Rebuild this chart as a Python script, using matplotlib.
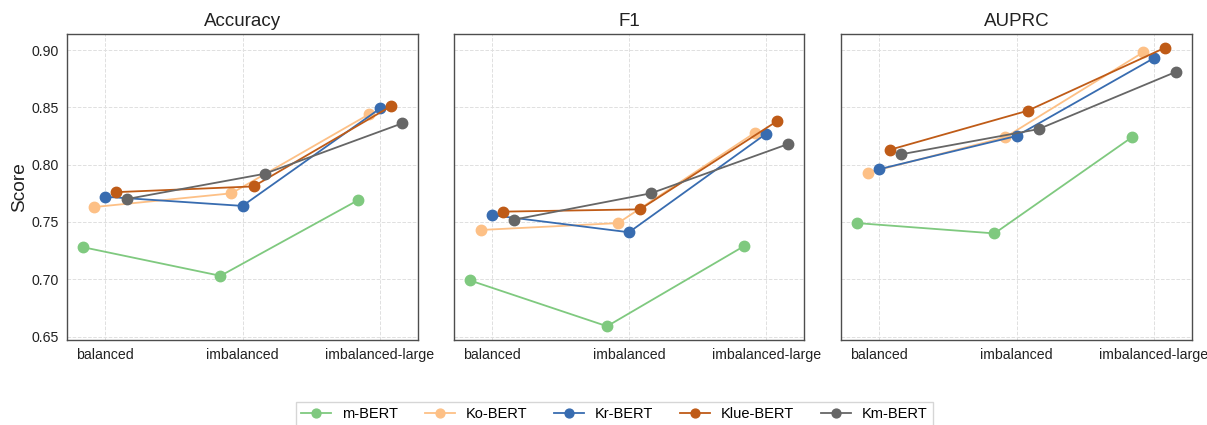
import numpy as np
import matplotlib
matplotlib.use("Agg")
import matplotlib.pyplot as plt

plt.rcParams['font.family'] = ['Liberation Sans', 'DejaVu Sans']

settings = ['balanced', 'imbalanced', 'imbalanced-large']
metrics = ['Accuracy', 'F1', 'AUPRC']
models = ['m-BERT', 'Ko-BERT', 'Kr-BERT', 'Klue-BERT', 'Km-BERT']
colors = ['#7fc97f', '#fdc086', '#386cb0', '#bf5b17', '#666666']

# scores[metric][model] -> one value per setting
accuracy = {
    'm-BERT':    [0.728, 0.703, 0.769],
    'Ko-BERT':   [0.763, 0.775, 0.844],
    'Kr-BERT':   [0.772, 0.764, 0.849],
    'Klue-BERT': [0.776, 0.781, 0.851],
    'Km-BERT':   [0.770, 0.792, 0.836],
}
f1 = {
    'm-BERT':    [0.699, 0.659, 0.729],
    'Ko-BERT':   [0.743, 0.749, 0.828],
    'Kr-BERT':   [0.756, 0.741, 0.827],
    'Klue-BERT': [0.759, 0.761, 0.838],
    'Km-BERT':   [0.752, 0.775, 0.818],
}
auprc = {
    'm-BERT':    [0.749, 0.740, 0.824],
    'Ko-BERT':   [0.793, 0.824, 0.898],
    'Kr-BERT':   [0.796, 0.825, 0.893],
    'Klue-BERT': [0.813, 0.847, 0.902],
    'Km-BERT':   [0.809, 0.831, 0.881],
}
scores = {'Accuracy': accuracy, 'F1': f1, 'AUPRC': auprc}

fig = plt.figure(figsize=(12.07, 4.25), dpi=100)
W, H = 1207, 425
boxes = [(67, 34, 351, 306), (454, 34, 350, 306), (841, 34, 351, 306)]
axes = []
for i, (x0, y0, w, h) in enumerate(boxes):
    ax = fig.add_axes([x0 / W, 1 - (y0 + h) / H, w / W, h / H],
                      sharey=axes[0] if axes else None)
    axes.append(ax)

x = np.arange(len(settings))
offsets = np.linspace(-0.16, 0.16, len(models))

for ax, metric in zip(axes, metrics):
    for j, (model, c) in enumerate(zip(models, colors)):
        ax.plot(x + offsets[j], scores[metric][model], '-o', color=c,
                lw=1.3, ms=7.5, label=model)
    ax.set_title(metric, fontsize=13.5, color='#222222', pad=6)
    ax.set_xticks(x)
    ax.set_xticklabels(settings)
    ax.grid(True, ls='--', lw=0.7, color='#e0e0e0')
    ax.set_axisbelow(True)
    ax.tick_params(length=0, pad=6, labelsize=10.2, colors='#222222')
    for s in ax.spines.values():
        s.set_color('#4d4d4d')
        s.set_linewidth(1.0)

axes[0].set_ylim(0.647, 0.914)
axes[0].set_yticks([0.65, 0.70, 0.75, 0.80, 0.85, 0.90])
axes[0].set_yticklabels([f'{v:.2f}' for v in [0.65, 0.70, 0.75, 0.80, 0.85, 0.90]])
axes[0].set_ylabel('Score', fontsize=13.8, color='#222222', labelpad=2)
for ax in axes[1:]:
    ax.tick_params(labelleft=False)
for ax in axes:
    ax.set_xlim(-0.276, 2.276)

handles, labels = axes[0].get_legend_handles_labels()
fig.legend(handles, labels, loc='upper center', ncol=5,
           bbox_to_anchor=(0.509, 0.071), fontsize=10.5, frameon=True,
           edgecolor='#cccccc', columnspacing=1.85, handlelength=2.05,
           handletextpad=0.75, borderpad=0.35, fancybox=False,
           markerscale=0.85)

fig.savefig('out.png', dpi=100)
